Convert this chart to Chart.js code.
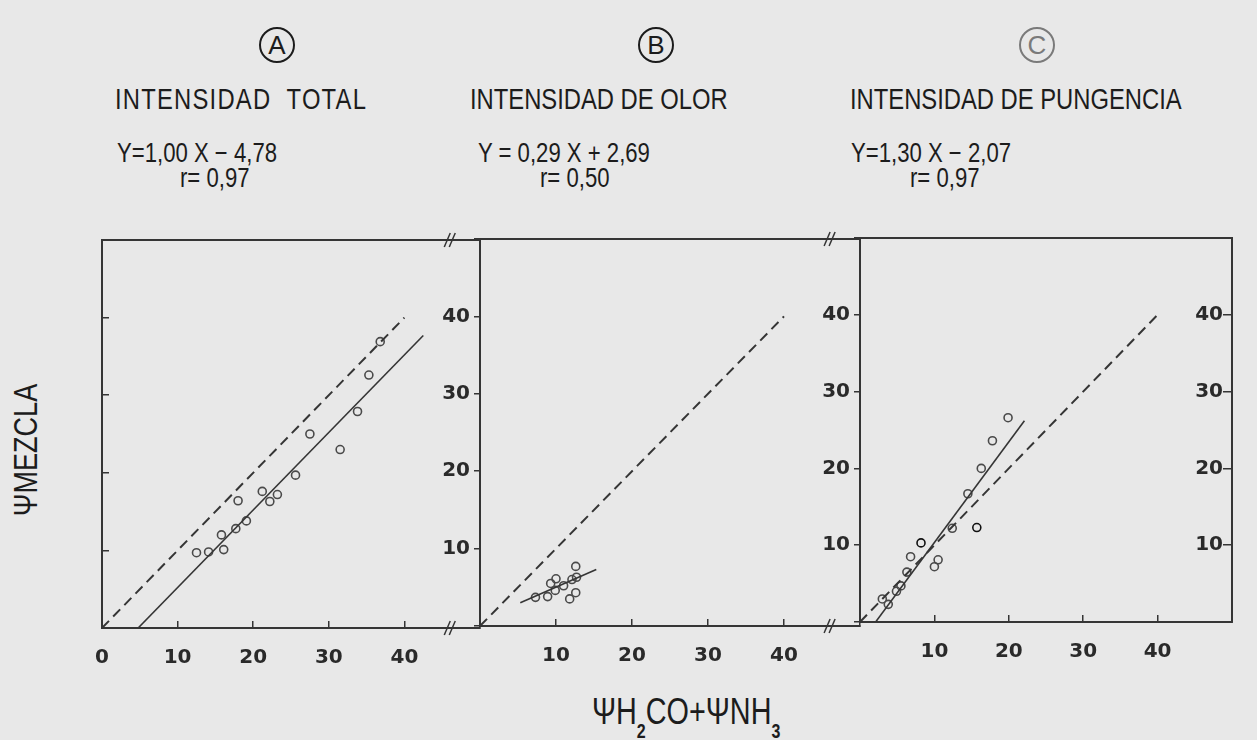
<!DOCTYPE html>
<html><head><meta charset="utf-8">
<script src="https://cdn.jsdelivr.net/npm/chart.js@4.4.1/dist/chart.umd.min.js"></script>
<style>
html,body{margin:0;padding:0;background:#e8e8e8;}
body{width:1257px;height:740px;position:relative;overflow:hidden;font-family:"Liberation Sans",Arial,sans-serif;color:#1c1c1c;}
canvas{position:absolute;left:0;top:0;}
.t{position:absolute;white-space:nowrap;transform:scaleX(0.82);transform-origin:0 0;line-height:1;}
.h{font-size:29px;top:85px;}
.e{font-size:27px;top:140px;}
.r{font-size:27px;top:165px;}
.circ{position:absolute;width:32px;height:32px;border:2.5px solid #1c1c1c;border-radius:50%;text-align:center;line-height:33px;font-size:26px;top:27px;}
.yt{position:absolute;left:25px;top:450px;font-size:33px;white-space:nowrap;line-height:1;transform:translate(-50%,-50%) rotate(-90deg) scaleX(0.82);}
.xt{position:absolute;left:592px;top:694px;font-size:36px;white-space:nowrap;line-height:1;transform:scaleX(0.8);transform-origin:0 0;}
.xt sub{font-size:20px;font-weight:bold;vertical-align:-14px;}
</style></head>
<body>
<div class="circ" style="left:259px;">A</div>
<div class="circ" style="left:638px;">B</div>
<div class="circ" style="left:1019px;border-color:#7a7a7a;color:#7a7a7a;">C</div>
<div class="t h" style="left:115px;letter-spacing:1.5px;">INTENSIDAD&nbsp; TOTAL</div>
<div class="t h" style="left:470px;">INTENSIDAD DE OLOR</div>
<div class="t h" style="left:850px;">INTENSIDAD DE PUNGENCIA</div>
<div class="t e" style="left:117px;">Y=1,00 X − 4,78</div>
<div class="t r" style="left:180px;">r= 0,97</div>
<div class="t e" style="left:478px;">Y = 0,29 X + 2,69</div>
<div class="t r" style="left:540px;">r= 0,50</div>
<div class="t e" style="left:851px;">Y=1,30 X − 2,07</div>
<div class="t r" style="left:910px;">r= 0,97</div>
<div class="yt">ΨMEZCLA</div>
<div class="xt">ΨH<sub>2</sub>CO+ΨNH<sub>3</sub></div>
<canvas id="cA" width="1257" height="740"></canvas>
<canvas id="cB" width="1257" height="740"></canvas>
<canvas id="cC" width="1257" height="740"></canvas>
<script>
// ---- data ----
const tickLabelsA = [0, 10, 20, 30, 40];
const tickLabelsBC = [10, 20, 30, 40];
const yTickLabels = [10, 20, 30, 40];

const refX = [0, 40];
const refY = [0, 40];

const totalX = [12.5, 14.1, 16.1, 15.8, 17.7, 18.0, 19.1, 21.2, 22.2, 23.2, 25.6, 27.5, 31.5, 33.8, 35.3, 36.8];
const totalY = [9.7, 9.8, 10.1, 12.0, 12.8, 16.4, 13.8, 17.6, 16.3, 17.2, 19.7, 25.0, 23.0, 27.9, 32.6, 36.9];
const totalFitX = [4.78, 42.5];
const totalFitY = [0, 37.7];

const olorX = [7.3, 8.9, 9.3, 10.0, 9.9, 11.0, 12.1, 12.6, 12.7, 11.8, 12.6];
const olorY = [3.7, 3.8, 5.5, 6.1, 4.6, 5.2, 6.0, 7.7, 6.3, 3.5, 4.3];
const olorFitX = [5.3, 15.3];
const olorFitY = [3.0, 7.3];

const pungX = [3.0, 3.8, 4.9, 5.5, 6.3, 6.8, 8.2, 10.0, 10.5, 12.4, 14.5, 15.7, 16.3, 17.8, 19.9];
const pungY = [3.0, 2.3, 4.0, 4.7, 6.5, 8.5, 10.3, 7.2, 8.1, 12.2, 16.7, 12.3, 20.0, 23.6, 26.6];
const pungFitX = [2.1, 22.1];
const pungFitY = [0, 26.2];

// ---- helpers ----
const pts = (xs, ys) => xs.map((x, i) => ({x: x, y: ys[i]}));
const INK = '#353535';
const tickFont = {family: 'DejaVu Sans', weight: 'bold', size: 20};
const X_AXIS_H = 45;
const Y_AXIS_W = 55;

function xAxis(labels) {
  return {
    type: 'linear', position: 'bottom', min: 0, max: 50,
    afterFit: s => { s.height = X_AXIS_H; },
    ticks: {stepSize: 10, autoSkip: false, maxRotation: 0, padding: 25, color: '#2a2a2a', font: tickFont,
      callback: v => labels.includes(v) ? String(v) : ''},
    grid: {display: true, drawOnChartArea: false, drawTicks: true, tickLength: -7, color: INK, lineWidth: 1.5},
    border: {display: true, color: INK, width: 2}
  };
}
function topAxis() {
  return {
    type: 'linear', position: 'top', min: 0, max: 50,
    afterFit: s => { s.height = 0; },
    ticks: {display: false},
    grid: {display: true, drawOnChartArea: false, drawTicks: false, color: INK},
    border: {display: true, color: INK, width: 2}
  };
}
function yLeft(showLabels) {
  return {
    type: 'linear', position: 'left', min: 0, max: 50,
    afterFit: s => { s.width = showLabels ? Y_AXIS_W : 0; },
    ticks: {display: showLabels, stepSize: 10, autoSkip: false, padding: 4, color: '#2a2a2a', font: tickFont,
      callback: v => yTickLabels.includes(v) ? String(v) : ''},
    grid: {display: true, drawOnChartArea: false, drawTicks: true, tickLength: showLabels ? 6 : -7, color: INK, lineWidth: 1.5},
    border: {display: true, color: INK, width: 2}
  };
}
function yRightInner() {
  return {
    type: 'linear', position: 'right', min: 0, max: 50,
    afterFit: s => { s.width = 0; },
    ticks: {display: true, mirror: true, stepSize: 10, autoSkip: false, padding: -9, color: '#2a2a2a', font: tickFont,
      callback: v => yTickLabels.includes(v) ? String(v) : ''},
    grid: {display: true, drawOnChartArea: false, drawTicks: true, tickLength: -9, color: INK, lineWidth: 1.5},
    border: {display: true, color: INK, width: 2}
  };
}
const breakPlugin = {
  id: 'breaks',
  afterDraw(chart) {
    const {ctx, chartArea} = chart;
    const px = chart.scales.x.getPixelForValue(46);
    ctx.save();
    ctx.strokeStyle = INK; ctx.lineWidth = 1.5;
    for (const py of [chartArea.top, chartArea.bottom]) {
      for (const dx of [-2.5, 2.5]) {
        ctx.beginPath();
        ctx.moveTo(px + dx - 3, py + 7);
        ctx.lineTo(px + dx + 3, py - 7);
        ctx.stroke();
      }
    }
    ctx.restore();
  }
};

function panel(id, area, datasets, scales, plugins, leftLabels) {
  return new Chart(document.getElementById(id), {
    type: 'scatter',
    data: {datasets: datasets},
    options: {
      responsive: false, animation: false, events: [],
      layout: {autoPadding: false, padding: {
        left: area.l - (leftLabels ? Y_AXIS_W : 0), right: 1257 - area.r,
        top: area.t, bottom: 740 - area.b - X_AXIS_H}},
      plugins: {legend: {display: false}, tooltip: {enabled: false}},
      scales: scales
    },
    plugins: plugins
  });
}
function refLine() {
  return {data: pts(refX, refY), showLine: true, borderColor: INK, borderWidth: 2, borderDash: [10, 6], pointRadius: 0};
}
function fitLine(xs, ys) {
  return {data: pts(xs, ys), showLine: true, borderColor: INK, borderWidth: 1.6, pointRadius: 0};
}
function scatter(xs, ys, colors) {
  return {data: pts(xs, ys), showLine: false, pointRadius: 4, pointBorderWidth: 1.6,
    pointBackgroundColor: 'rgba(0,0,0,0)', pointBorderColor: colors || '#4a4a4a'};
}

panel('cA', {l: 102, r: 480, t: 240, b: 628},
  [refLine(), fitLine(totalFitX, totalFitY), scatter(totalX, totalY)],
  {x: xAxis(tickLabelsA), xt: topAxis(), y: yLeft(false)}, [breakPlugin], false);

panel('cB', {l: 480, r: 860, t: 239, b: 626},
  [refLine(), fitLine(olorFitX, olorFitY), scatter(olorX, olorY)],
  {x: xAxis(tickLabelsBC), xt: topAxis(), y: yLeft(true)}, [breakPlugin], true);

panel('cC', {l: 860, r: 1244, t: 238, b: 622},
  [refLine(), fitLine(pungFitX, pungFitY),
   scatter(pungX, pungY, ['#4a4a4a','#4a4a4a','#4a4a4a','#4a4a4a','#4a4a4a','#4a4a4a','#111','#4a4a4a','#4a4a4a','#4a4a4a','#4a4a4a','#111','#4a4a4a','#4a4a4a','#4a4a4a'])],
  {x: xAxis(tickLabelsBC), xt: topAxis(), y: yLeft(true), yr: yRightInner()}, [], true);
</script>
</body></html>
